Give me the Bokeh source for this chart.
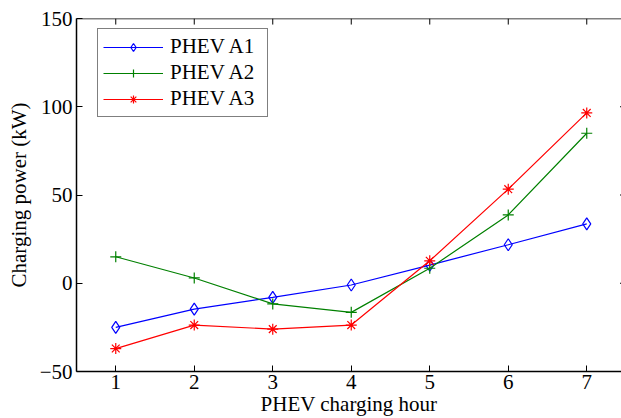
from bokeh.plotting import figure
from bokeh.models import FixedTicker, Range1d, Legend, LegendItem, Span
from bokeh.embed import file_html
from bokeh.resources import INLINE

# Charging power of each PHEV aggregator per charging hour (kW)
hours = [1, 2, 3, 4, 5, 6, 7]
phev_a1 = [-25.0, -14.7, -8.0, -1.0, 10.3, 21.8, 33.6]
phev_a2 = [15.0, 3.0, -11.7, -16.5, 8.5, 38.7, 85.0]
phev_a3 = [-37.0, -23.7, -26.0, -23.7, 12.7, 53.3, 96.5]
y_ticks = [-50, 0, 50, 100, 150]

FONT = "Liberation Serif"
FS = "21px"
PX_PER_HOUR = 78.5
PX_PER_KW = 1.75
FRAME_W = 545
X_END_FULL = 7.5
Y_TOP = 150

p = figure(width=621, height=418, output_backend="svg", toolbar_location=None,
           x_range=Range1d(0.5, 0.5 + FRAME_W / PX_PER_HOUR),
           y_range=Range1d(-50, Y_TOP),
           min_border_left=76, min_border_top=18, min_border_right=0,
           min_border_bottom=0)
p.background_fill_color = "white"
p.border_fill_color = "white"
p.outline_line_color = None
p.xgrid.visible = False
p.ygrid.visible = False


def style_axis(ax):
    ax.major_tick_in = 6
    ax.major_tick_out = 0
    ax.minor_tick_in = 0
    ax.minor_tick_out = 0
    ax.axis_line_color = "black"
    ax.axis_line_width = 1.5
    ax.major_tick_line_color = "black"
    ax.major_tick_line_width = 1
    ax.major_label_text_font = FONT
    ax.major_label_text_font_size = FS
    ax.major_label_text_color = "black"
    ax.axis_label_text_font = FONT
    ax.axis_label_text_font_size = FS
    ax.axis_label_text_font_style = "normal"
    ax.axis_label_text_color = "black"


xa = p.xaxis[0]
ya = p.yaxis[0]
style_axis(xa)
style_axis(ya)
xa.ticker = FixedTicker(ticks=hours)
ya.ticker = FixedTicker(ticks=y_ticks)
xa.axis_label = "PHEV charging hour"
ya.axis_label = "Charging power (kW)"
xa.major_label_standoff = 3
xa.axis_label_standoff = 0
ya.major_label_standoff = 4
ya.axis_label_standoff = 6

# Top edge of the box with its inward ticks
p.add_layout(Span(location=Y_TOP, dimension="width", line_color="black", line_width=1.5))
top_len = 6 / PX_PER_KW
p.segment(x0=hours, x1=hours, y0=[Y_TOP] * len(hours), y1=[Y_TOP - top_len] * len(hours),
          line_color="black", line_width=1)

# Inward ticks of the right box edge
tick_len = 6 / PX_PER_HOUR
inner_y = y_ticks[1:-1]
p.segment(x0=[X_END_FULL - tick_len] * len(inner_y), x1=[X_END_FULL] * len(inner_y),
          y0=inner_y, y1=inner_y, line_color="black", line_width=1)

BLUE, GREEN, RED = "#0000ff", "#008000", "#ff0000"
LW = 1.2

l1 = p.line(hours, phev_a1, line_color=BLUE, line_width=LW)
m1 = p.scatter(hours, phev_a1, marker="diamond", size=12,
               fill_color=None, line_color=BLUE, line_width=LW)
l2 = p.line(hours, phev_a2, line_color=GREEN, line_width=LW)
m2 = p.scatter(hours, phev_a2, marker="cross", size=11,
               line_color=GREEN, line_width=LW)
l3 = p.line(hours, phev_a3, line_color=RED, line_width=LW)
m3 = p.scatter(hours, phev_a3, marker="asterisk", size=11,
               line_color=RED, line_width=LW)

legend = Legend(items=[
    LegendItem(label="PHEV A1", renderers=[l1, m1]),
    LegendItem(label="PHEV A2", renderers=[l2, m2]),
    LegendItem(label="PHEV A3", renderers=[l3, m3]),
], location=(21, 254))
legend.border_line_color = "black"
legend.border_line_width = 1
legend.background_fill_color = "white"
legend.background_fill_alpha = 1
legend.label_text_font = FONT
legend.label_text_font_size = FS
legend.label_text_color = "black"
legend.label_standoff = 7
legend.glyph_width = 60
legend.glyph_height = 20
legend.label_height = 20
legend.label_width = 92
legend.spacing = 1
legend.padding = 5
legend.margin = 0
p.add_layout(legend)

open("out.html", "w").write(file_html(p, INLINE))
